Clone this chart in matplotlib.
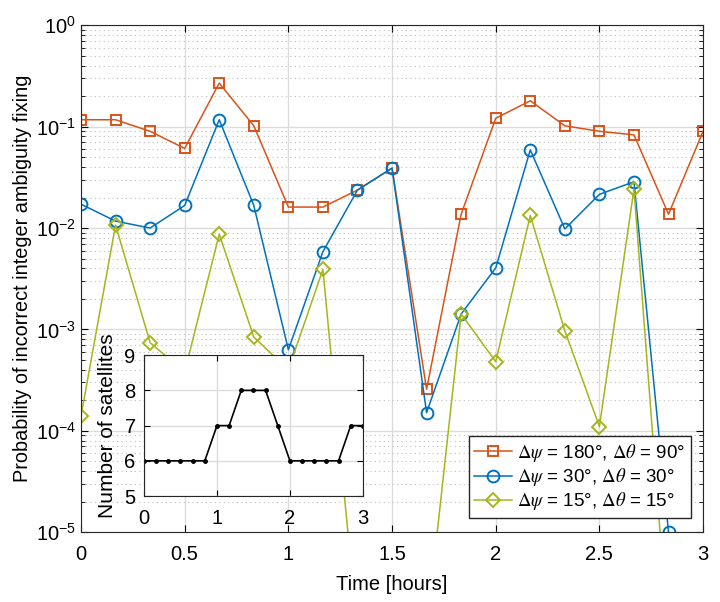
import matplotlib
matplotlib.use("Agg")
import matplotlib.pyplot as plt
import numpy as np
from matplotlib.ticker import LogLocator, NullFormatter, NullLocator

plt.rcParams['font.family'] = ['Liberation Sans', 'DejaVu Sans']
plt.rcParams['mathtext.fontset'] = 'stix'

# time in minutes, one sample every 10 min
time_min = [0, 10, 20, 30, 40, 50, 60, 70, 80, 90, 100, 110, 120, 130, 140, 150, 160, 170, 180]

p_180_90 = [0.117, 0.117, 0.090, 0.061, 0.269, 0.102, 0.0161, 0.0161, 0.0237, 0.039,
            2.57e-4, 0.0137, 0.121, 0.180, 0.102, 0.090, 0.083, 0.0137, 0.090]
p_30_30 = [0.0172, 0.0117, 0.0100, 0.0167, 0.117, 0.0167, 6.3e-4, 0.00585, 0.0237, 0.039,
           1.51e-4, 1.42e-3, 4.04e-3, 0.059, 0.0098, 0.0215, 0.0286, 1.0e-5, np.nan]
p_15_15 = [1.4e-4, 0.0107, 7.4e-4, 3.8e-4, 0.0087, 8.4e-4, 4.0e-4, 3.9e-3, 1.0e-6, 1.0e-6,
           1.1e-6, 1.42e-3, 4.8e-4, 0.0133, 9.7e-4, 1.10e-4, 0.0242, 8e-7, np.nan]

n_sats = [6, 6, 6, 6, 6, 6, 7, 7, 8, 8, 8, 7, 6, 6, 6, 6, 6, 7, 7]

labels = [r'$\Delta\psi$ = 180°, $\Delta\theta$ = 90°',
          r'$\Delta\psi$ = 30°, $\Delta\theta$ = 30°',
          r'$\Delta\psi$ = 15°, $\Delta\theta$ = 15°']

t = np.array(time_min) / 60.0

fig = plt.figure(figsize=(7.2, 6.02), dpi=100)
ax = fig.add_axes([0.1125, 0.116, 0.864, 0.842])

ax.plot(t, p_180_90, '-s', color='#D95319', lw=1.1, ms=7.5, mfc='none', mew=1.4, label=labels[0])
ax.plot(t, p_30_30, '-o', color='#0072BD', lw=1.1, ms=8.5, mfc='none', mew=1.4, label=labels[1])
ax.plot(t, p_15_15, '-D', color='#A6B51A', lw=1.1, ms=7, mfc='none', mew=1.4, label=labels[2])

ax.set_yscale('log')
ax.set_xlim(0, 3)
ax.set_ylim(1e-5, 1)
ax.set_xticks([0, 0.5, 1, 1.5, 2, 2.5, 3])
ax.set_xticklabels(['0', '0.5', '1', '1.5', '2', '2.5', '3'])
ax.yaxis.set_major_locator(LogLocator(base=10, numticks=10))
ax.yaxis.set_minor_locator(LogLocator(base=10, subs=np.arange(2, 10), numticks=20))
ax.yaxis.set_minor_formatter(NullFormatter())
ax.xaxis.set_minor_locator(NullLocator())

ax.tick_params(which='both', direction='in', top=True, right=True, labelsize=14.5)
ax.tick_params(which='major', length=5)
ax.tick_params(which='minor', length=3)
ax.tick_params(axis='x', pad=9)
ax.grid(True, which='major', color='#dcdcdc', lw=1.0)
ax.grid(True, which='minor', axis='y', color='#bdbdbd', lw=0.8, linestyle=(0, (1, 3)))
ax.set_axisbelow(True)
for s in ax.spines.values():
    s.set_color('#262626')

ax.set_xlabel('Time [hours]', fontsize=14.5, labelpad=8)
ax.set_ylabel('Probability of incorrect integer ambiguity fixing', fontsize=14.3)
ax.yaxis.set_label_coords(-0.078, 0.5)

leg = ax.legend(loc='lower right', bbox_to_anchor=(0.981, 0.028), borderaxespad=0,
                fontsize=13.5, fancybox=False, framealpha=1, edgecolor='#262626',
                handlelength=2.0, handletextpad=0.3, labelspacing=0.12, borderpad=0.3)
leg.get_frame().set_linewidth(1.0)

# inset with number of satellites
ax2 = fig.add_axes([0.2, 0.176, 0.304, 0.234])
ax2.plot(t, n_sats, 'k.-', lw=1.2, ms=5)
ax2.set_xlim(0, 3)
ax2.set_ylim(5, 9)
ax2.set_xticks([0, 1, 2, 3])
ax2.set_yticks([5, 6, 7, 8, 9])
ax2.tick_params(direction='in', top=True, right=True, labelsize=14.5, length=4)
ax2.tick_params(axis='x', pad=9)
ax2.tick_params(axis='y', pad=6)
ax2.grid(True, color='#dcdcdc', lw=1.0)
ax2.set_axisbelow(True)
ax2.set_facecolor('white')
for s in ax2.spines.values():
    s.set_color('#262626')
ax2.set_ylabel('Number of satellites', fontsize=15, labelpad=5)

fig.savefig('out.png', dpi=100)
